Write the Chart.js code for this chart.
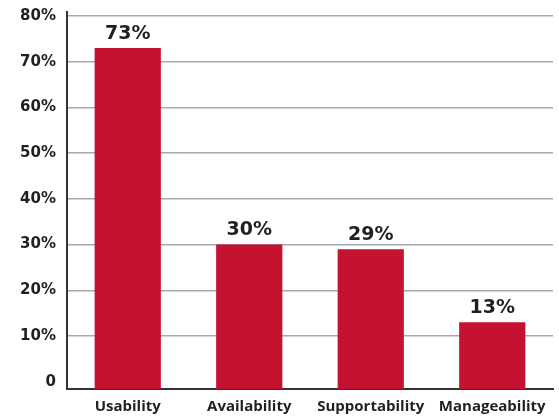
<!DOCTYPE html>
<html>
<head>
<meta charset="utf-8">
<script src="https://cdn.jsdelivr.net/npm/chart.js@4"></script>
<style>
html,body{margin:0;padding:0;background:#fff;}
#wrap{width:559px;height:416px;position:relative;}
</style>
</head>
<body>
<div id="wrap"><canvas id="c"></canvas></div>
<script>
const categories = ["Usability", "Availability", "Supportability", "Manageability"];
const values = [73, 30, 29, 13];
const tickValues = [0, 10, 20, 30, 40, 50, 60, 70, 80];

const Y_MIN = -1.6;

const labelPlugin = {
  id: 'barLabels',
  afterDatasetsDraw(chart) {
    const ctx = chart.ctx;
    const meta = chart.getDatasetMeta(0);
    ctx.save();
    ctx.font = 'bold 19px "DejaVu Sans"';
    ctx.fillStyle = '#231f20';
    ctx.textAlign = 'center';
    ctx.textBaseline = 'bottom';
    meta.data.forEach((bar, i) => {
      ctx.fillText(values[i] + '%', bar.x, bar.y - 5);
    });
    ctx.restore();
  }
};

new Chart(document.getElementById('c'), {
  type: 'bar',
  data: {
    labels: categories,
    datasets: [{
      data: values,
      backgroundColor: '#c41230',
      base: Y_MIN,
      barPercentage: 0.545,
      categoryPercentage: 1
    }]
  },
  options: {
    responsive: true,
    maintainAspectRatio: false,
    animation: false,
    layout: { padding: { top: 12, right: 6, bottom: 0, left: 0 } },
    plugins: { legend: { display: false }, tooltip: { enabled: false } },
    scales: {
      x: {
        grid: { display: false },
        border: { display: true, color: '#333333', width: 2 },
        ticks: {
          color: '#231f20',
          font: { family: '"Open Sans"', weight: 'bold', size: 15 },
          padding: 1,
          maxRotation: 0
        },
        afterFit(axis) { axis.height = 27; axis.paddingLeft = 0; axis.paddingRight = 0; }
      },
      y: {
        min: Y_MIN,
        max: 80.9,
        afterBuildTicks(axis) { axis.ticks = tickValues.map(v => ({ value: v })); },
        afterFit(axis) { axis.width = 67; axis.paddingTop = 0; axis.paddingBottom = 0; },
        grid: {
          color: (c) => (c.tick && c.tick.value === 0) ? 'rgba(0,0,0,0)' : '#a7a9ac',
          lineWidth: 1.5,
          drawTicks: false
        },
        border: { display: true, color: '#333333', width: 2 },
        ticks: {
          color: '#231f20',
          font: { family: '"DejaVu Sans"', weight: 'bold', size: 15 },
          padding: 11,
          callback: (v) => v === 0 ? '0' : v + '%'
        }
      }
    }
  },
  plugins: [labelPlugin]
});
</script>
</body>
</html>
